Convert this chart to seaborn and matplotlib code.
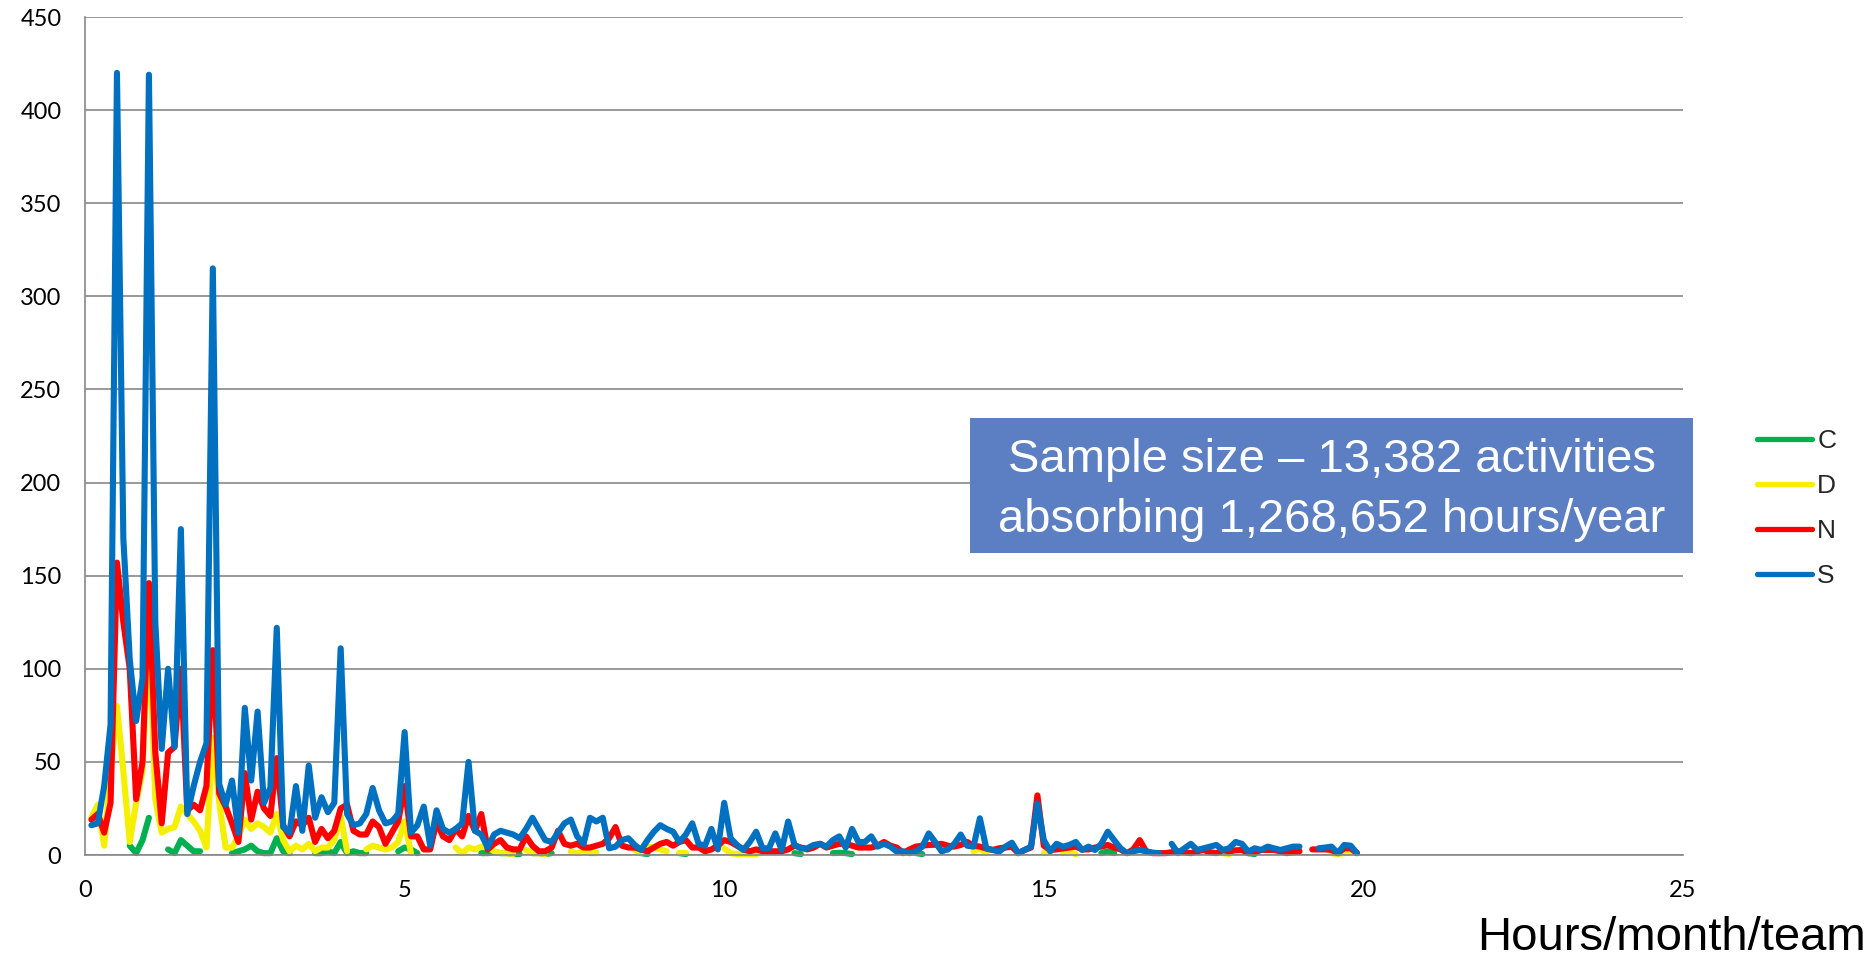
import numpy as np
import pandas as pd
import matplotlib
matplotlib.use("Agg")
import matplotlib.pyplot as plt
import seaborn as sns
from matplotlib.lines import Line2D
from matplotlib.patches import Rectangle

N = np.nan
# x categories: hours/month/team in steps of 0.1 (0.1 .. 20.0)
hours = np.round(np.arange(1, 201) * 0.1, 1)

series_names = ["C", "D", "N", "S"]
colors = {"C": "#00B050", "D": "#F5F000", "N": "#FF0000", "S": "#0070C0"}

C = [N, N, N, N, N, N, 5, 1, 8, 20,
     N, N, 3, 1, 8, 5, 2, 2, N, N,
     N, N, 1, 2, 3, 5, 2, 1, 1, 9,
     2, 1, N, N, N, 1, 1, 2, 1, 7,
     1, 2, 1, 1, N, N, N, N, 2, 4,
     3, 1, N, N, N, N, N, N, N, N,
     N, 1, 1, 1.5, 1, 1, 0.5, 0.5, N, 1,
     1, 0.5, 1, N, N, N, N, N, 1, 1,
     N, N, N, N, N, N, 1, 0.5, N, N,
     N, N, 1, 0.5, N, N, N, N, N, N,
     N, N, N, N, N, N, N, N, N, N,
     1, 0.5, N, N, N, N, 1, 1.2, 1, 0.5,
     N, N, N, N, N, N, N, N, N, 1,
     0.5, N, N, N, N, N, N, N, N, N,
     N, N, N, N, N, N, N, N, N, N,
     N, N, N, N, N, N, N, N, 1, 2,
     1, N, N, N, N, N, N, N, N, N,
     N, N, N, N, N, N, N, N, N, N,
     N, 1, 0.5, N, N, N, N, N, N, N,
     N, N, N, N, N, N, N, N, N, N]

D = [20, 27, 5, 45, 80, 45, 7, 28, 45, 125,
     30, 12, 14, 15, 26, 22, 18, 13, 4, 63,
     28, 4, 4, 10, 19, 14, 17, 15, 12, 22,
     8, 2, 5, 3, 6, 2, 4, 4, 8, 21,
     2, N, N, 3, 5, 4, 3, 4, 7, 18,
     1, N, N, N, N, N, N, 4, 1, 4,
     3, 4.5, 4, 2, 1, 1, 0.5, N, 2.7, 1,
     1, 0.5, N, N, N, 1.8, 1, 1.8, 1.5, 1,
     N, N, N, N, N, 2.7, 1, 4.5, 4, 3,
     2, N, 1, 1, N, N, N, N, N, 3.6,
     1, 0.5, 0.5, 0.5, 0.3, N, N, N, N, N,
     N, N, N, N, N, N, N, N, N, N,
     N, N, N, N, N, N, N, N, N, N,
     N, N, N, N, N, N, N, N, 2, 3.5,
     1, N, N, N, N, N, N, N, N, 1,
     1.5, N, 1, 1.5, 0.5, N, N, N, N, N,
     N, N, N, N, N, N, N, N, N, N,
     N, N, N, N, N, N, N, 1, 0.5, N,
     N, N, N, N, N, N, N, N, N, N,
     N, N, N, N, 1, 0.5, 1, 1.5, N, N]

Nn = [19, 22, 12, 28, 157, 125, 100, 30, 50, 146,
      55, 17, 55, 58, 100, 24, 27, 24, 37, 110,
      33, 26, 17, 7, 44, 19, 34, 25, 21, 52,
      16, 10, 18, 16, 20, 7, 14, 9, 13, 25,
      27, 13, 11, 11, 18, 15, 6, 12, 18, 37,
      10, 10, 3, 3, 18, 10, 8, 14, 10, 21,
      13, 22, 3, 6, 8, 4, 3, 3, 10, 5,
      2, 2, 4, 13, 6, 5, 6, 4, 4, 5,
      6, 9, 15, 5, 4, 4, 3, 2, 4, 6,
      7, 5, 7, 8, 4, 4, 2, 3, 5, 8,
      7, 5, 3, 2, 3, 2, 2, 2, 2, 3,
      5, 4, 3, 4, 6, 4, 5, 6, 6, 5,
      4, 4, 4, 5, 7, 5, 4, 1, 3, 4.5,
      5, 5.4, 5.5, 6, 5, 4.5, 5.4, 7, 5, 4.5,
      3.5, 2.7, 3.6, 4, 4.5, 1, 2.7, 4, 32, 5,
      2.7, 3, 3.5, 4, 4.5, 3, 3, 4, 4.5, 5.4,
      4, 3, 1, 3, 8, 2, 1, 1, 1, 1.5,
      2, 1.5, 1, 2, 2.7, 1.5, 1, 2.5, 2, 2.5,
      2.7, 1, 1.5, 2.7, 2.7, 2.7, 2, 1, 1.5, 2,
      N, 3, 3, 3, 2.7, 1, 3.6, 3.6, 1, N]

S = [16, 17, 37, 70, 420, 170, 105, 72, 95, 419,
     125, 57, 100, 58, 175, 22, 37, 50, 60, 315,
     38, 27, 40, 12, 79, 40, 77, 28, 36, 122,
     15, 12, 37, 13, 48, 20, 31, 23, 28, 111,
     22, 16, 17, 22, 36, 24, 17, 18, 22, 66,
     12, 16, 26, 5, 24, 14, 12, 14, 17, 50,
     13, 11, 4, 11, 13, 12, 11, 9, 14, 20,
     14, 8, 7, 12, 17, 19, 10, 6, 20, 18,
     20, 3.6, 4.5, 8, 9, 5.4, 2.7, 8, 12.5, 16,
     14, 12.5, 7, 11, 17, 6, 5, 14, 3, 28,
     9, 5.4, 2.7, 7, 12.5, 3.6, 3.6, 11.6, 2.7, 18,
     5.4, 3.6, 3.6, 5.4, 6, 4.5, 8, 10, 4, 14,
     7, 7, 10, 4.5, 6, 4.5, 1.8, 2, 1, 2,
     4.5, 11.6, 7, 2, 3, 6, 11, 5, 4.5, 19.7,
     3.6, 2.7, 1.8, 4.5, 6.6, 1, 2.7, 4.5, 27.7, 8,
     2, 6, 4.5, 5.4, 7, 2.7, 4.5, 2.7, 6, 12.5,
     8, 3.6, 1, 2, 2.7, 2, 1.3, 1, N, 6,
     1, 3.6, 6, 2.7, 3.6, 4.5, 5.4, 2.7, 3.6, 7,
     6, 1.8, 3.6, 2.7, 4.5, 3.6, 2.7, 3.6, 4.5, 4.5,
     N, N, 3.6, 4, 4.5, 1, 5.4, 5, 1, N]

values = {"C": C, "D": D, "N": Nn, "S": S}

x_ticks = [0, 5, 10, 15, 20, 25]
y_ticks = [0, 50, 100, 150, 200, 250, 300, 350, 400, 450]
x_label = "Hours/month/team"
box_text = "Sample size \u2013 13,382 activities\nabsorbing 1,268,652 hours/year"


def to_frame(name):
    v = np.asarray(values[name], dtype=float)
    ok = ~np.isnan(v)
    seg = np.cumsum(np.r_[True, ok[1:] != ok[:-1]])
    df = pd.DataFrame({"hours": hours, "value": v, "segment": seg, "series": name})
    return df[ok]


sns.set_style("white")
plt.rcParams["font.family"] = ["Lato", "DejaVu Sans"]

W, H = 1875, 957
fig = plt.figure(figsize=(W / 100, H / 100), dpi=100)
ax = fig.add_axes([85 / W, 1 - 855 / H, (1683 - 85) / W, (855 - 17) / H])

grey = "#878787"
LW = 4.4
for name in series_names:
    df = to_frame(name)
    sns.lineplot(data=df, x="hours", y="value", units="segment", estimator=None,
                 color=colors[name], lw=LW, ax=ax, legend=False, sort=True,
                 clip_on=False, solid_joinstyle="round", solid_capstyle="round")

ax.set_xlim(0, 25)
ax.set_ylim(0, 450)
ax.set_xticks(x_ticks)
ax.set_yticks(y_ticks)
ax.set_xlabel("")
ax.set_ylabel("")
ax.yaxis.grid(True, color=grey, lw=1.2)
ax.xaxis.grid(False)
ax.set_axisbelow(True)
for s in ["top", "right"]:
    ax.spines[s].set_visible(False)
for s in ["left", "bottom"]:
    ax.spines[s].set_color(grey)
    ax.spines[s].set_linewidth(1.2)
ax.tick_params(axis="both", direction="out", length=6, width=1.2, color=grey,
               labelsize=17, labelcolor="#000000")
ax.tick_params(axis="x", pad=12)
ax.tick_params(axis="y", pad=11)

# legend
handles = [Line2D([0], [0], color=colors[n], lw=3.8, solid_capstyle="round") for n in series_names]
fig.legend(handles, series_names, loc="upper left",
           bbox_to_anchor=(1757 / W, 1 - 429 / H), frameon=False,
           prop={"family": "Liberation Sans", "size": 19},
           handlelength=2.1, handletextpad=0.18, labelspacing=0.8,
           borderpad=0, borderaxespad=0)

# annotation box
rect = Rectangle((970 / W, 1 - 553 / H), 723 / W, 135 / H, transform=fig.transFigure,
                 facecolor="#5B7FC2", edgecolor="none", zorder=10)
fig.add_artist(rect)
fig.text(1331.5 / W, 1 - 490 / H, box_text, ha="center", va="center",
         color="white", fontsize=34, family="Liberation Sans", linespacing=1.48, zorder=11)

fig.text(1866 / W, 1 - 950 / H, x_label, ha="right", va="baseline",
         fontsize=34, family="Liberation Sans", color="black")

fig.savefig("out.png", dpi=100)
